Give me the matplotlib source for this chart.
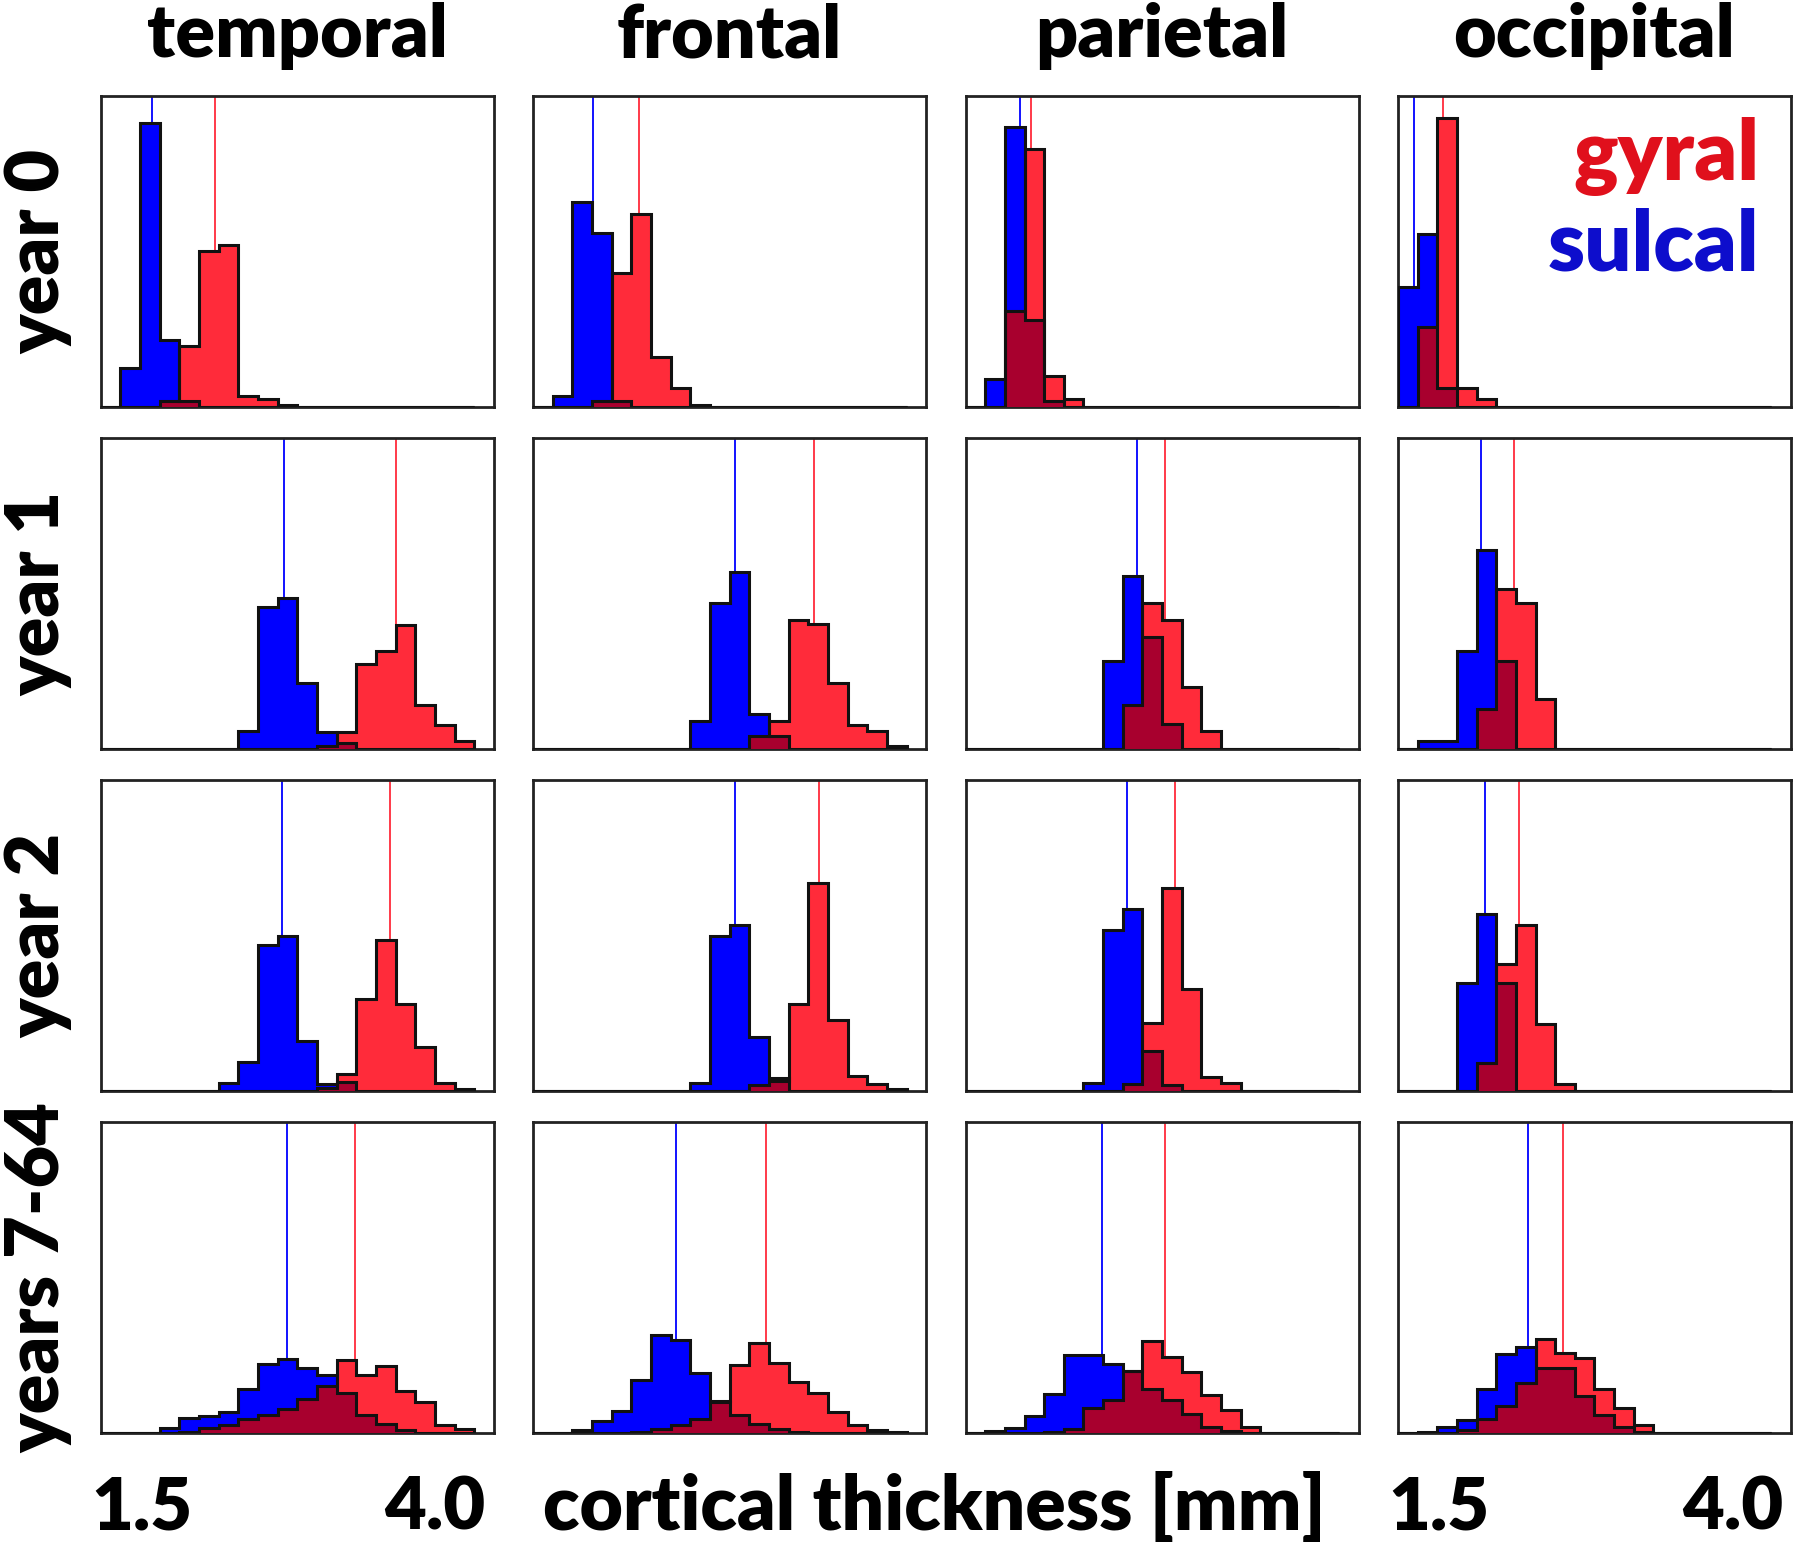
import numpy as np
import matplotlib
matplotlib.use('Agg')
from matplotlib import pyplot as plt

plt.rcParams['font.family'] = ['Lato', 'DejaVu Sans']
plt.rcParams['font.weight'] = 'heavy'

REGIONS = ['temporal', 'frontal', 'parietal', 'occipital']
AGES = ['year 0', 'year 1', 'year 2', 'years 7-64']

# histogram bins in mm (19 bins)
BIN_START = 1.15
BIN_WIDTH = 0.1675
N_BINS = 19
X_MIN, X_MAX = 1.15, 4.5

# bin heights, as fraction of panel height, one list per region (bins 0..18)
SULCAL_YEAR0 = [
  [0, .127, .914, .214, .02, 0, 0, 0, 0, 0, 0, 0, 0, 0, 0, 0, 0, 0, 0],
  [0, .034, .66, .558, .02, 0, 0, 0, 0, 0, 0, 0, 0, 0, 0, 0, 0, 0, 0],
  [0, .091, .90, .28, .02, 0, 0, 0, 0, 0, 0, 0, 0, 0, 0, 0, 0, 0, 0],
  [.385, .555, .06, 0, 0, 0, 0, 0, 0, 0, 0, 0, 0, 0, 0, 0, 0, 0, 0],
]
GYRAL_YEAR0 = [
  [0, 0, 0, .02, .195, .503, .521, .036, .027, .005, 0, 0, 0, 0, 0, 0, 0, 0, 0],
  [0, 0, 0, .02, .432, .622, .16, .061, .005, 0, 0, 0, 0, 0, 0, 0, 0, 0, 0],
  [0, 0, .31, .829, .10, .026, 0, 0, 0, 0, 0, 0, 0, 0, 0, 0, 0, 0, 0],
  [0, .256, .93, .061, .026, 0, 0, 0, 0, 0, 0, 0, 0, 0, 0, 0, 0, 0, 0],
]
SULCAL_YEAR1 = [
  [0, 0, 0, 0, 0, 0, 0, .059, .456, .485, .213, .055, .02, 0, 0, 0, 0, 0, 0],
  [0, 0, 0, 0, 0, 0, 0, 0, .091, .471, .570, .112, .043, 0, 0, 0, 0, 0, 0],
  [0, 0, 0, 0, 0, 0, 0, .282, .556, .362, .08, 0, 0, 0, 0, 0, 0, 0, 0],
  [0, .027, .027, .315, .64, .282, 0, 0, 0, 0, 0, 0, 0, 0, 0, 0, 0, 0, 0],
]
GYRAL_YEAR1 = [
  [0, 0, 0, 0, 0, 0, 0, 0, 0, 0, 0, .01, .055, .274, .314, .40, .143, .077, .025],
  [0, 0, 0, 0, 0, 0, 0, 0, 0, 0, 0, .043, .091, .416, .403, .213, .077, .059, .011],
  [0, 0, 0, 0, 0, 0, 0, 0, .141, .469, .416, .199, .059, 0, 0, 0, 0, 0, 0],
  [0, 0, 0, 0, .128, .514, .469, .16, 0, 0, 0, 0, 0, 0, 0, 0, 0, 0, 0],
]
SULCAL_YEAR2 = [
  [0, 0, 0, 0, 0, 0, .026, .095, .469, .498, .162, .023, .03, 0, 0, 0, 0, 0, 0],
  [0, 0, 0, 0, 0, 0, 0, 0, .026, .498, .535, .173, .043, 0, 0, 0, 0, 0, 0],
  [0, 0, 0, 0, 0, 0, .026, .518, .587, .128, .02, 0, 0, 0, 0, 0, 0, 0, 0],
  [0, 0, 0, .349, .570, .349, 0, 0, 0, 0, 0, 0, 0, 0, 0, 0, 0, 0, 0],
]
GYRAL_YEAR2 = [
  [0, 0, 0, 0, 0, 0, 0, 0, 0, 0, 0, .01, .055, .296, .486, .282, .143, .026, .007],
  [0, 0, 0, 0, 0, 0, 0, 0, 0, 0, 0, .02, .034, .282, .669, .228, .05, .023, .007],
  [0, 0, 0, 0, 0, 0, 0, 0, .023, .218, .653, .328, .045, .026, 0, 0, 0, 0, 0],
  [0, 0, 0, 0, .091, .41, .535, .216, .023, 0, 0, 0, 0, 0, 0, 0, 0, 0, 0],
]
SULCAL_ADULT = [
  [0, 0, 0, .018, .05, .055, .068, .143, .223, .239, .21, .189, .13, .06, .03, .01, 0, 0, 0],
  [0, 0, .01, .039, .072, .173, .317, .301, .194, .10, .06, .03, .015, .005, 0, 0, 0, 0, 0],
  [0, .008, .018, .055, .128, .253, .253, .224, .20, .143, .109, .061, .021, .008, 0, 0, 0, 0, 0],
  [0, .005, .021, .043, .143, .256, .277, .21, .21, .12, .06, .02, .005, 0, 0, 0, 0, 0, 0],
]
GYRAL_ADULT = [
  [0, 0, 0, 0, .005, .018, .026, .045, .058, .077, .111, .154, .237, .189, .218, .136, .10, .026, .015],
  [0, 0, 0, 0, 0, .005, .015, .026, .045, .104, .221, .29, .226, .164, .13, .068, .026, .01, .005],
  [0, 0, 0, 0, .005, .015, .082, .109, .20, .296, .245, .197, .125, .074, .021, 0, 0, 0, 0],
  [0, 0, 0, .01, .045, .087, .162, .304, .26, .242, .143, .082, .026, 0, 0, 0, 0, 0, 0],
]

# mean thickness lines [mm], rows = ages, cols = regions
SULCAL_MEANS = [
  [1.587, 1.656, 1.613, 1.288],
  [2.712, 2.873, 2.615, 1.861],
  [2.698, 2.873, 2.53, 1.89],
  [2.736, 2.37, 2.317, 2.257],
]
GYRAL_MEANS = [
  [2.122, 2.05, 1.71, 1.53],
  [3.664, 3.543, 2.846, 2.138],
  [3.611, 3.59, 2.932, 2.185],
  [3.313, 3.136, 2.846, 2.558],
]

SULCAL = [SULCAL_YEAR0, SULCAL_YEAR1, SULCAL_YEAR2, SULCAL_ADULT]
GYRAL = [GYRAL_YEAR0, GYRAL_YEAR1, GYRAL_YEAR2, GYRAL_ADULT]

BLUE = '#0000ff'
RED = '#ff2b3a'
OVERLAP = '#a8002e'
FONT = 53

bins = BIN_START + BIN_WIDTH * np.arange(N_BINS + 1)
centers = 0.5 * (bins[:-1] + bins[1:])

fig, axes = plt.subplots(4, 4, figsize = (18, 15.48), dpi = 100)
fig.subplots_adjust(left = 0.056, right = 0.995, top = 0.938, bottom = 0.074,
                    wspace = 0.1, hspace = 0.1)

for r in range(4):
  for c in range(4):
    ax = axes[r, c]
    s = np.array(SULCAL[r][c])
    g = np.array(GYRAL[r][c])

    ax.axvline(SULCAL_MEANS[r][c], color = BLUE, lw = 1.3, zorder = 1)
    ax.axvline(GYRAL_MEANS[r][c], color = RED, lw = 1.3, zorder = 1)

    ax.hist(centers, bins = bins, weights = s, histtype = 'stepfilled',
            facecolor = BLUE, edgecolor = 'none', zorder = 2)
    ax.hist(centers, bins = bins, weights = g, histtype = 'stepfilled',
            facecolor = RED, edgecolor = 'none', zorder = 3)
    ax.hist(centers, bins = bins, weights = np.minimum(s, g), histtype = 'stepfilled',
            facecolor = OVERLAP, edgecolor = 'none', zorder = 4)
    ax.hist(centers, bins = bins, weights = s, histtype = 'step',
            color = '#111111', lw = 2.2, zorder = 5)
    ax.hist(centers, bins = bins, weights = g, histtype = 'step',
            color = '#111111', lw = 2.2, zorder = 5)

    ax.set_xlim(X_MIN, X_MAX)
    ax.set_ylim(0, 1)
    ax.set_yticks([])
    for sp in ax.spines.values():
      sp.set_linewidth(2)
      sp.set_color('#222222')

    if r == 3 and c in (0, 3):
      ax.set_xticks([1.5, 4.0])
      ax.set_xticklabels(['1.5', '4.0'], fontsize = 52, fontweight = 'heavy')
      ax.tick_params(axis = 'x', length = 0, pad = 30)
    else:
      ax.set_xticks([])

    if r == 0:
      ax.set_title(REGIONS[c], fontsize = FONT, fontweight = 'heavy', pad = 28)
    if c == 0:
      ax.text(-0.16, 0.5, AGES[r], transform = ax.transAxes, rotation = 90,
              ha = 'center', va = 'center', fontsize = FONT, fontweight = 'heavy')

axes[0, 3].text(0.92, 0.73, 'gyral', transform = axes[0, 3].transAxes,
                ha = 'right', va = 'baseline', fontsize = 60, fontweight = 'heavy',
                color = '#e0101c')
axes[0, 3].text(0.92, 0.44, 'sulcal', transform = axes[0, 3].transAxes,
                ha = 'right', va = 'baseline', fontsize = 60, fontweight = 'heavy',
                color = '#0d0dcc')

fig.text(0.519, 0.026, 'cortical thickness [mm]', ha = 'center', va = 'center',
         fontsize = 54, fontweight = 'heavy')

fig.savefig('out.png', dpi = 100)
